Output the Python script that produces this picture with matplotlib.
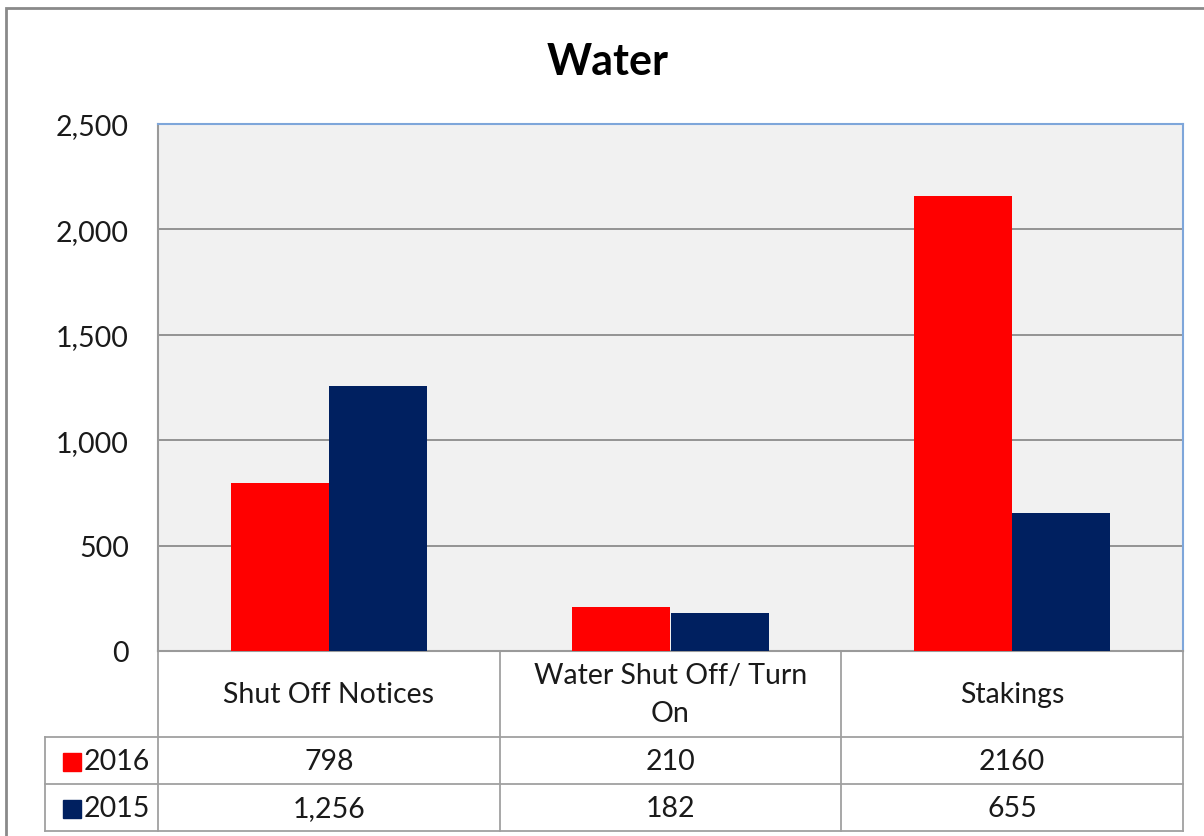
import matplotlib
matplotlib.use("Agg")
import matplotlib.pyplot as plt
from matplotlib.patches import Rectangle
from matplotlib.lines import Line2D
from matplotlib.transforms import blended_transform_factory

plt.rcParams['font.family'] = ['Lato', 'DejaVu Sans']

categories = ["Shut Off Notices", "Water Shut Off/ Turn\nOn", "Stakings"]
series_names = ["2016", "2015"]
values_2016 = [798, 210, 2160]
values_2015 = [1256, 182, 655]
table_2016 = ["798", "210", "2160"]
table_2015 = ["1,256", "182", "655"]
yticks = [0, 500, 1000, 1500, 2000, 2500]
ytick_labels = ["0", "500", "1,000", "1,500", "2,000", "2,500"]
colors = ["#FF0000", "#002060"]

W, H = 1204, 837
fig = plt.figure(figsize=(W / 100, H / 100), dpi=100)
fig.patch.set_facecolor("white")

def fx(px):
    return px / W

def fy(py):
    return 1 - py / H

FS = 20.5
TXT = "#1A1A1A"

left, right, top, bottom = 158, 1183, 125, 652
ax = fig.add_axes([fx(left), fy(bottom), fx(right - left), (bottom - top) / H])
ax.set_facecolor("#F1F1F1")

bw = 0.287
xs = list(range(len(categories)))
ax.bar([x - bw / 2 for x in xs], values_2016, width=bw, color=colors[0], zorder=3)
ax.bar([x + bw / 2 for x in xs], values_2015, width=bw, color=colors[1], zorder=3)

ax.set_xlim(-0.5, len(categories) - 0.5)
ax.set_ylim(0, 2500)
ax.set_yticks(yticks)
ax.set_yticklabels(ytick_labels, fontsize=FS, color=TXT)
ax.tick_params(axis="y", length=0, pad=21)
ax.set_xticks([])
ax.grid(axis="y", color="#8C8C8C", linewidth=1.3, zorder=1)
ax.set_axisbelow(True)
for s in ["top", "right"]:
    ax.spines[s].set_color("#7EA6DA")
    ax.spines[s].set_linewidth(1.5)
ax.spines["left"].set_color("#9A9A9A")
ax.spines["left"].set_linewidth(1.5)
ax.spines["bottom"].set_color("#9A9A9A")
ax.spines["bottom"].set_linewidth(1.5)

fig.text(fx(608), fy(62), "Water", fontsize=31, fontweight="bold", color="black",
         ha="center", va="center")

# data table
tr = blended_transform_factory(ax.transData, fig.transFigure)
line_kw = dict(color="#A0A0A0", linewidth=1.3, clip_on=False)
row_y = [652, 738, 785, 832]
label_left = 45
n = len(categories)
for yy in row_y[1:]:
    fig.add_artist(Line2D([fx(label_left), fx(right)], [fy(yy), fy(yy)], **line_kw))
for b in [i - 0.5 for i in range(n + 1)]:
    ax.add_line(Line2D([b, b], [fy(652), fy(832)], transform=tr, **line_kw))
fig.add_artist(Line2D([fx(label_left), fx(label_left)], [fy(738), fy(832)], **line_kw))

for i, c in enumerate(categories):
    ax.text(i, fy((652 + 738) / 2), c, transform=tr, ha="center", va="center",
            fontsize=FS, color=TXT, linespacing=1.55)

for r, (name, vals, col) in enumerate(zip(series_names, [table_2016, table_2015], colors)):
    y0, y1 = row_y[r + 1], row_y[r + 2]
    yc = fy((y0 + y1) / 2 + 1)
    fig.add_artist(Rectangle((fx(63), fy((y0 + y1) / 2 + 10)), fx(18), 18 / H, color=col))
    fig.text(fx(84), yc, name, ha="left", va="center", fontsize=FS, color=TXT)
    for i, v in enumerate(vals):
        ax.text(i, yc, v, transform=tr, ha="center", va="center", fontsize=FS, color=TXT)

fig.add_artist(Rectangle((fx(6), fy(900)), fx(1300), (900 - 9) / H, fill=False,
                         edgecolor="#8A8A8A", linewidth=2))

fig.savefig("out.png", dpi=100)
